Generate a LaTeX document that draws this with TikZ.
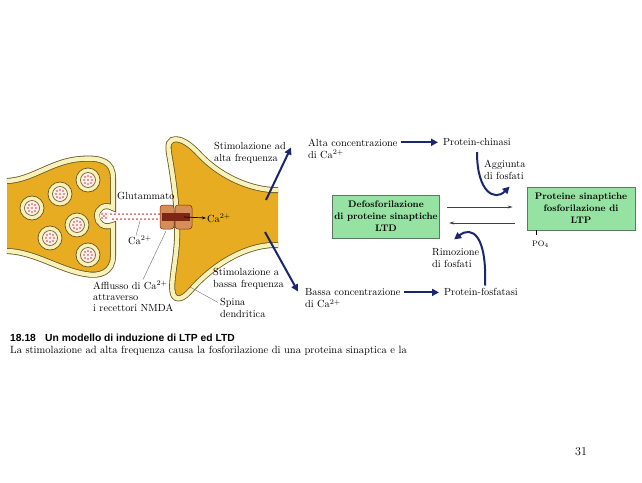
\documentclass[tikz,border=0pt]{standalone}
\usepackage{fontspec}
\newfontfamily\capfont{Liberation Sans}
\usetikzlibrary{arrows.meta}

\definecolor{gold}{RGB}{232,172,34}
\definecolor{pale}{RGB}{247,242,185}
\definecolor{memb}{RGB}{105,85,35}
\definecolor{navy}{RGB}{28,38,112}
\definecolor{boxgreen}{RGB}{150,226,162}
\definecolor{boxedge}{RGB}{95,120,100}
\definecolor{chan}{RGB}{214,142,88}
\definecolor{chancore}{RGB}{128,38,22}
\definecolor{dotred}{RGB}{214,72,72}
\definecolor{vesfill}{RGB}{252,238,232}

\tikzset{
  membrane/.style={draw=memb, line width=6pt, preaction={fill=gold},
    postaction={draw=pale, line width=4.4pt}},
  lbl/.style={anchor=north west, inner sep=0pt, align=left,
    font=\fontsize{10.3}{12}\selectfont},
  greenbox/.style={draw=boxedge, fill=boxgreen, line width=0.8pt, align=center,
    inner sep=2pt, minimum height=43pt, font=\fontsize{9.5}{12}\selectfont\bfseries},
  navyarrow/.style={navy, line width=2pt, -{Triangle[length=7pt,width=7pt]}},
  thinarrow/.style={black!75, line width=0.6pt, -{Stealth[length=5pt,width=3pt]}},
  leader/.style={black!55, line width=0.4pt},
}

\begin{document}
\begin{tikzpicture}[x=1pt,y=-1pt]
\useasboundingbox (0,0) rectangle (642,482);
\fill[white] (0,0) rectangle (642,482);

% terminale presinaptico
\draw[membrane] (7,181) .. controls (32,180) and (52,161) .. (80,159)
  .. controls (102,157) and (113,162) .. (113,178) -- (113,208)
  .. controls (104,203) and (97,209) .. (97,216)
  .. controls (97,223) and (104,229) .. (113,225) -- (113,256)
  .. controls (113,272) and (100,277) .. (85,274)
  .. controls (60,270) and (35,252) .. (7,251);
\foreach \vx/\vy in {88/180, 60/194, 32/208, 77/225, 50/238, 88/255} {
  \filldraw[fill=pale, draw=memb, line width=0.7pt] (\vx,\vy) circle (12);
  \filldraw[fill=vesfill, draw=memb, line width=0.6pt] (\vx,\vy) circle (7.5);
  \foreach \dx/\dy in {-3/-3, 0/-4, 3/-3, -4/0, 0/0, 4/0, -3/3, 0/4, 3/3}
    \fill[dotred] (\vx+\dx,\vy+\dy) circle (0.9);
}
% vescicola fusa e glutammato
\fill[vesfill] (104,216) circle (4.5);
\foreach \dx/\dy in {-2/-2, 2/-2, 0/0, -2/2, 2/2}
  \fill[dotred] (104+\dx,216+\dy) circle (0.8);
\foreach \i in {0,...,12} {
  \fill[dotred] (111+4*\i,214) circle (1);
  \fill[dotred] (113+4*\i,219) circle (1);
}

% spina dendritica
\draw[membrane] (278,190) -- (272,190) .. controls (245,188) and (218,174) .. (200,155)
  .. controls (190,144) and (180,137) .. (172,140)
  .. controls (166,143) and (169,152) .. (171,165)
  .. controls (175,190) and (178,215) .. (177,240)
  .. controls (176,262) and (170,284) .. (173,294)
  .. controls (176,302) and (184,298) .. (190,291)
  .. controls (210,268) and (240,247) .. (272,245) -- (278,245);

% recettore NMDA
\filldraw[fill=chan, draw=chancore, line width=0.5pt, rounded corners=3pt] (160,205) rectangle (174,229);
\filldraw[fill=chan, draw=chancore, line width=0.5pt, rounded corners=3pt] (175,205) rectangle (192,229);
\fill[chancore] (162,213) rectangle (190,221);

% testi
\node[lbl] (glut) at (117,192.5) {Glutammato};
\node[lbl] (castream) at (128,235.5) {Ca\textsuperscript{2+}};
\node[lbl] (cach) at (207,213.5) {Ca\textsuperscript{2+}};
\node[lbl, font=\fontsize{10.3}{11}\selectfont] (afflusso) at (93,280.5) {Afflusso di Ca\textsuperscript{2+}\\attraverso\\i recettori NMDA};
\node[lbl] (stimalta) at (214,142.5) {Stimolazione ad\\alta frequenza};
\node[lbl] (stimbassa) at (213,268.5) {Stimolazione a\\bassa frequenza};
\node[lbl] (spina) at (220,298.5) {Spina\\dendritica};
\node[lbl] (alta) at (308,138.5) {Alta concentrazione\\di Ca\textsuperscript{2+}};
\node[lbl] (bassa) at (305,288.5) {Bassa concentrazione\\di Ca\textsuperscript{2+}};
\node[lbl] (chinasi) at (443,138.5) {Protein-chinasi};
\node[lbl] (fosfatasi) at (444,288.5) {Protein-fosfatasi};
\node[lbl] (aggiunta) at (484,159.5) {Aggiunta\\di fosfati};
\node[lbl] (rimozione) at (432,248.5) {Rimozione\\di fosfati};
\node[greenbox, minimum width=105pt] (ltd) at (386,216.5) {Defosforilazione\\di proteine sinaptiche\\LTD};
\node[greenbox, minimum width=108pt] (ltp) at (581,208.5) {Proteine sinaptiche\\fosforilazione di\\LTP};
\node[anchor=west, inner sep=0pt, font=\fontsize{8}{9}\selectfont] (po) at (532,244) {PO$_4$};

% frecce
\coordinate (pore) at (184,217);
\draw[-{Stealth[length=4pt]}, line width=0.7pt, shorten >=1pt] (pore) -- (cach.west);
\coordinate (streampt) at (140,221);
\draw[leader] ([xshift=8pt]castream.north west) -- (streampt);
\coordinate (chanfoot) at (166,231);
\draw[leader] ([xshift=50pt,yshift=1pt]afflusso.north west) -- (chanfoot);
\coordinate (spinept) at (190,287);
\draw[leader] ([xshift=-2pt,yshift=-4pt]spina.north west) -- (spinept);

\coordinate (neckhi) at (266,200);
\coordinate (necklo) at (265,232);
\draw[navyarrow] (neckhi) -- ([xshift=-17pt,yshift=-9pt]alta.north west);
\draw[navyarrow] (necklo) -- ([xshift=-7pt,yshift=-3pt]bassa.north west);
\draw[navyarrow, shorten <=3pt, shorten >=5pt] (alta.north east |- chinasi.west) -- (chinasi.west);
\draw[navyarrow, shorten <=3pt, shorten >=5pt] (bassa.north east |- fosfatasi.west) -- (fosfatasi.west);
\draw[navyarrow] ([xshift=34pt,yshift=-6pt]chinasi.south west) .. controls +(0,40) and +(-15,15) .. ([xshift=-17pt]ltp.north west);
\draw[navyarrow] ([xshift=41pt,yshift=3pt]fosfatasi.north west) .. controls +(2,-50) and +(18,-14) .. ([xshift=14pt,yshift=-1pt]ltd.south east);

\draw[thinarrow] ([xshift=7pt,yshift=9.5pt]ltd.east) -- ([xshift=-14pt,yshift=1.5pt]ltp.west);
\draw[thinarrow] ([xshift=-12pt,yshift=-14.5pt]ltp.west) -- ([xshift=9pt,yshift=-6.5pt]ltd.east);
\draw[line width=0.4pt] ([xshift=10pt]ltp.south west) -- ++(0,5);

% didascalia
\node[anchor=west, inner sep=0pt, font={\capfont\bfseries\fontsize{10.3}{12}\selectfont}] (captitle) at (10,338) {18.18\hspace{0.9em}Un modello di induzione di LTP ed LTD};
\node[anchor=west, inner sep=0pt, font=\fontsize{10.5}{12}\selectfont] (capline) at (10,351) {La stimolazione ad alta frequenza causa la fosforilazione di una proteina sinaptica e la};
\node[font=\fontsize{12}{14}\selectfont] (pagenum) at (581,452) {31};
\end{tikzpicture}
\end{document}
